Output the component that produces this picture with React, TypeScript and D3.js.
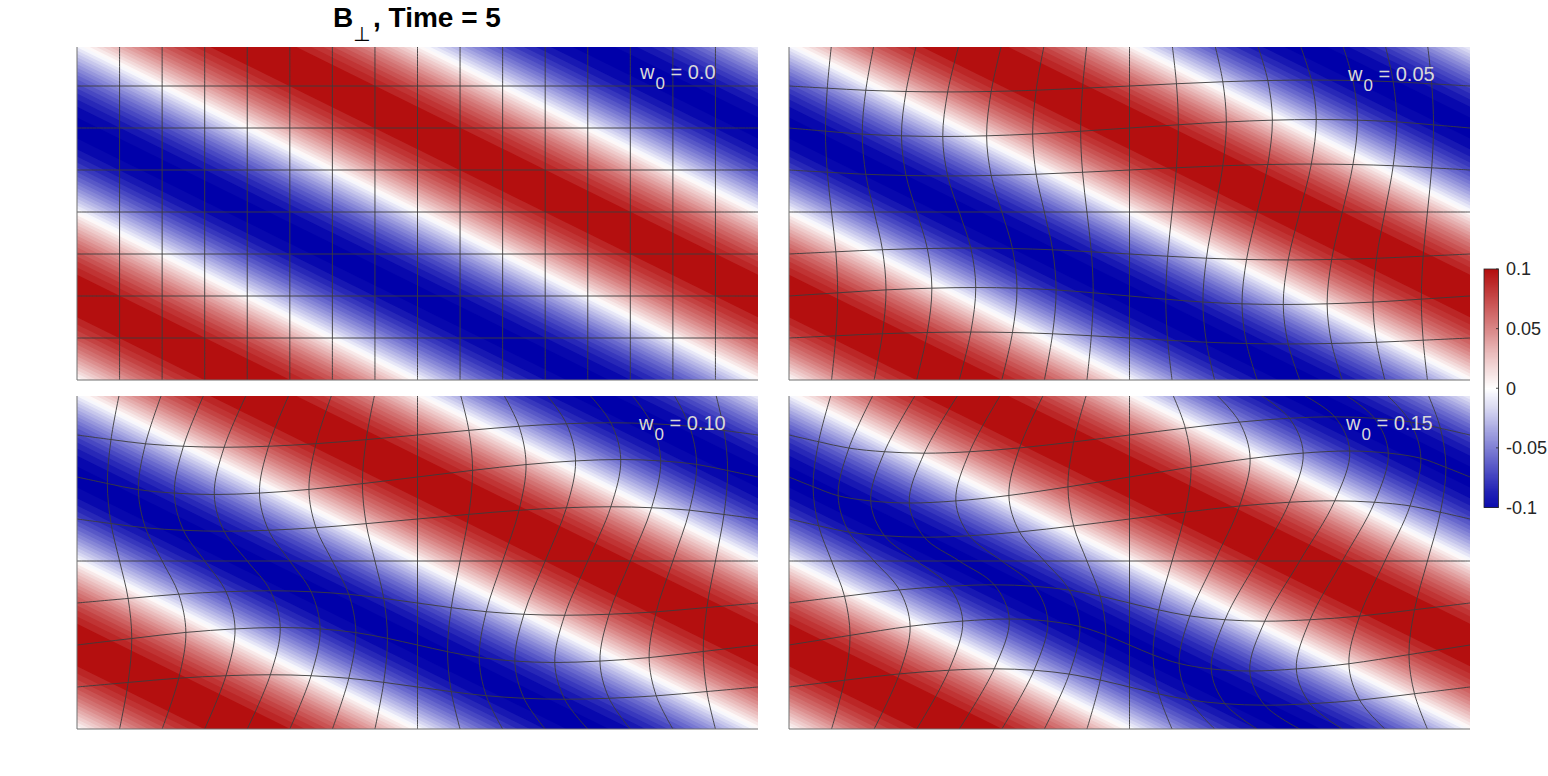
import React from "react";
import * as d3 from "d3";

const width = 1548;
const height = 776;

// field value read across one wave period (1/32 steps), going along the top edge of a panel
const waveProfile = [
  0, 0.02, 0.039, 0.057, 0.072, 0.085, 0.094, 0.1, 0.102, 0.1, 0.094, 0.085, 0.072, 0.057, 0.039, 0.02,
  0, -0.02, -0.039, -0.057, -0.072, -0.085, -0.094, -0.1, -0.102, -0.1, -0.094, -0.085, -0.072, -0.057, -0.039, -0.02,
];

// relative mesh displacement read at each column / row of the 16 x 8 mesh
const columnWeights = [0, 0.37, 0.72, 0.92, 1, 0.92, 0.71, 0.38, 0, -0.38, -0.71, -0.92, -1, -0.92, -0.72, -0.37, 0];
const rowWeights = [0, 0.7, 1, 0.7, 0, -0.7, -1, -0.7, 0];

const panelLabels = ["0.0", "0.05", "0.10", "0.15"];
const panelLeft = [77, 789, 77, 789];
const panelTop = [47, 47, 396, 396];
const shiftX = [0, 16.5, 33, 50]; // px, biggest sideways mesh shift in each panel
const shiftY = [0, 8.5, 17.5, 26]; // px, biggest up/down mesh shift in each panel
const labelX = [563, 559, 562, 557];
const labelY = [32, 34, 33.5, 33.5];

const colorbarTicks = [0.1, 0.05, 0, -0.05, -0.1];
const colorbarLabels = ["0.1", "0.05", "0", "-0.05", "-0.1"];

const panelW = 681;
const panelH = 333;
const dataTop = -3; // the data starts a little above the visible axes
const font = "'Liberation Sans', Arial, Helvetica, sans-serif";

const color = d3
  .scaleLinear<string>()
  .domain([-0.1, 0, 0.1])
  .range(["#0000aa", "#ffffff", "#b40f0f"])
  .clamp(true);

// contour levels, 32 steps from -0.1 to 0.1
const levelStep = 0.2 / 32;
const levels = d3.range(0, 32).map((i) => -0.1 + i * levelStep);

const nx = 33;
const ny = 33;
const grid: number[] = [];
for (let j = 0; j < ny; j++) {
  for (let i = 0; i < nx; i++) {
    grid.push(waveProfile[(i - j + 32) % 32]);
  }
}

const App = () => {
  // d3.contours puts grid node i at i + 0.5
  const gx = d3.scaleLinear().domain([0.5, nx - 0.5]).range([0, panelW]);
  const gy = d3.scaleLinear().domain([0.5, ny - 0.5]).range([dataTop, panelH]);
  const contourPath = d3.geoPath(
    d3.geoTransform({
      point(x, y) {
        this.stream.point(gx(x), gy(y));
      },
    })
  );
  const bands = d3.contours().size([nx, ny]).thresholds(levels)(grid);

  const mx = d3.scaleLinear().domain([0, 16]).range([0, panelW]);
  const my = d3.scaleLinear().domain([0, 8]).range([dataTop, panelH]);
  const meshLine = d3.line().curve(d3.curveCatmullRom.alpha(0.5));

  const node = (p: number, i: number, j: number): [number, number] => {
    const w = columnWeights[i] * rowWeights[j];
    return [mx(i) - shiftX[p] * w, my(j) + shiftY[p] * w];
  };

  const cbX = 1484;
  const cbW = 14.5;
  const cbY = d3.scaleLinear().domain([0.1, -0.1]).range([269, 507.5]);
  const cbSteps = d3.range(0, 240).map((i) => 0.1 - (i * 0.2) / 240);
  const cbStepH = (cbY(-0.1) - cbY(0.1)) / 240;

  return (
    <svg
      width={width}
      height={height}
      style={{ position: "absolute", left: 0, top: 0, display: "block", background: "#fff" }}
      fontFamily={font}
    >
      <defs>
        <clipPath id="panel-clip">
          <rect x={0} y={0} width={panelW} height={panelH} />
        </clipPath>
      </defs>

      {panelLabels.map((label, p) => (
        <g key={label} transform={`translate(${panelLeft[p]},${panelTop[p]})`}>
          <g clipPath="url(#panel-clip)">
            <rect width={panelW} height={panelH} fill={color(-0.1)} />
            {bands.map((b, k) => (
              <path
                key={k}
                d={contourPath(b) || ""}
                fill={k === levels.length - 1 ? color(0.1) : color(b.value + levelStep / 2)}
              />
            ))}
            <g fill="none" stroke="#3c3c3c" strokeWidth={0.9}>
              {d3.range(1, 16).map((i) => (
                <path key={"v" + i} d={meshLine(d3.range(0, 9).map((j) => node(p, i, j))) || ""} />
              ))}
              {d3.range(1, 8).map((j) => (
                <path key={"h" + j} d={meshLine(d3.range(0, 17).map((i) => node(p, i, j))) || ""} />
              ))}
            </g>
          </g>
          <line x1={0} x2={0} y1={0} y2={panelH} stroke="#707070" strokeWidth={1} />
          <line x1={0} x2={panelW} y1={panelH} y2={panelH} stroke="#707070" strokeWidth={1} />
          <text x={labelX[p]} y={labelY[p]} fill="#d8d8d8" fontSize={20}>
            <tspan>w</tspan>
            <tspan dy={10} dx={1} fontSize={17}>
              0
            </tspan>
            <tspan dy={-10} dx={0}>
              {" = " + label}
            </tspan>
          </text>
        </g>
      ))}

      <text x={333} y={27} fontSize={28} fontWeight="bold" fill="#000">
        B
      </text>
      <text x={353} y={41} fontSize={20} fill="#000" fontFamily="'DejaVu Sans', sans-serif">
        ⊥
      </text>
      <text x={373} y={27} fontSize={28} fontWeight="bold" fill="#000">
        , Time = 5
      </text>

      {cbSteps.map((v) => (
        <rect key={v} x={cbX} y={cbY(v)} width={cbW} height={cbStepH + 0.4} fill={color(v)} />
      ))}
      <rect x={cbX} y={cbY(0.1)} width={cbW} height={cbY(-0.1) - cbY(0.1)} fill="none" stroke="#262626" strokeWidth={0.8} />
      {colorbarTicks.map((t, i) => (
        <g key={t}>
          <line x1={cbX + cbW - 2.5} x2={cbX + cbW} y1={cbY(t)} y2={cbY(t)} stroke="#262626" strokeWidth={0.8} />
          <text x={1506} y={cbY(t)} dy="0.35em" fontSize={18} fill="#262626">
            {colorbarLabels[i]}
          </text>
        </g>
      ))}
    </svg>
  );
};

export default App;
